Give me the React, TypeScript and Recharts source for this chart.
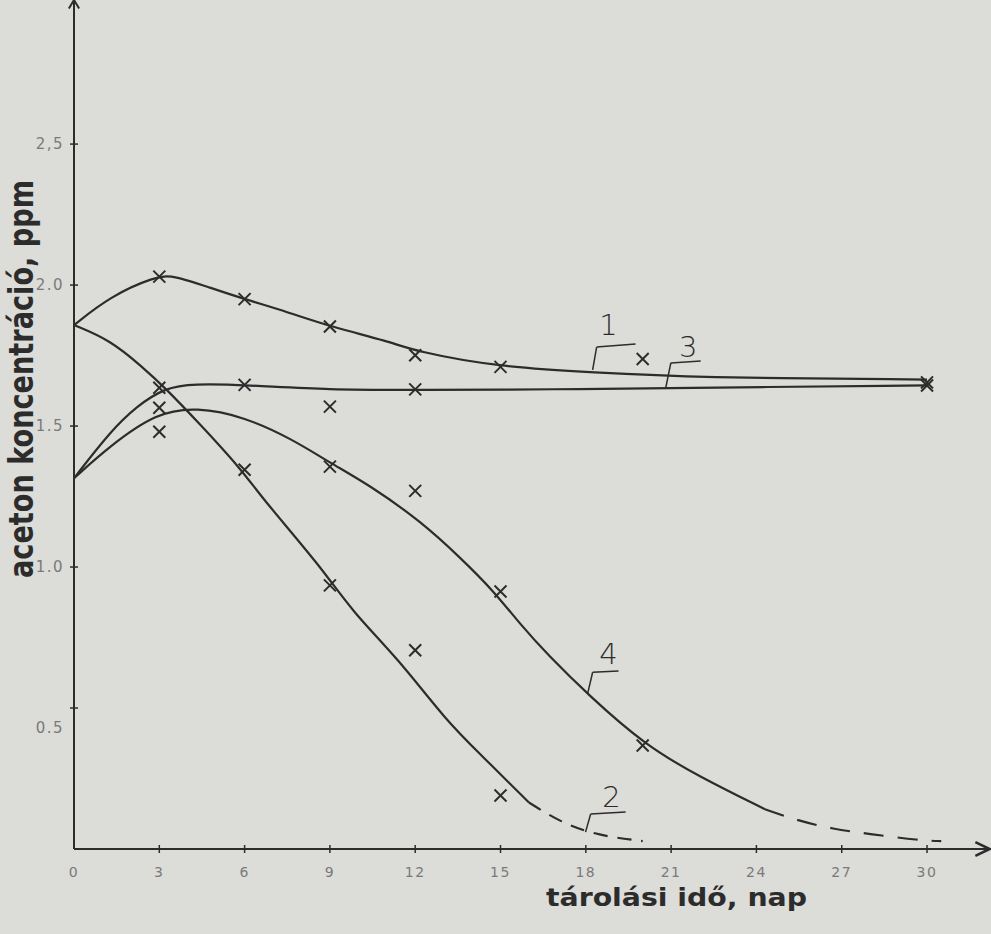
import React from 'react';
import { ComposedChart, Line, Scatter, XAxis, YAxis, ReferenceLine, ReferenceDot } from 'recharts';

const INK = '#2c2c2c';
const PAPER = '#dcdcd8';
const TICK_INK = '#7a7a7a';

// axis ticks
const xTicks = [0, 3, 6, 9, 12, 15, 18, 21, 24, 27, 30];
const xTickLabels = ['0', '3', '6', '9', '12', '15', '18', '21', '24', '27', '30'];
const yTicks = [0.5, 1.0, 1.5, 2.0, 2.5];
const yTickLabels = ['0.5', '1.0', '1.5', '2.0', '2,5'];

// curve 1 (fitted line)
const c1Days = [0, 1.27, 2.85, 3.5, 4.8, 6, 7.5, 9, 11.1, 12, 14.9, 18.3, 21.8, 30];
const c1Vals = [1.858, 1.96, 2.03, 2.035, 1.99, 1.95, 1.905, 1.853, 1.8, 1.765, 1.71, 1.69, 1.672, 1.665];
// curve 2 (solid part, dashed extrapolation)
const c2Days = [0, 1.27, 2.4, 3.2, 4.4, 5.9, 6.65, 8.66, 9.8, 11.4, 13.1, 14.3, 16];
const c2Vals = [1.858, 1.805, 1.71, 1.636, 1.51, 1.345, 1.24, 1.004, 0.84, 0.675, 0.454, 0.335, 0.165];
const c2DashDays = [16, 17.1, 18.4, 20];
const c2DashVals = [0.165, 0.095, 0.048, 0.028];
// curve 3
const c3Days = [0, 1.27, 2.2, 3.2, 4.2, 6, 9, 12, 17.1, 20.9, 30];
const c3Vals = [1.315, 1.48, 1.57, 1.636, 1.65, 1.646, 1.628, 1.628, 1.63, 1.635, 1.644];
// curve 4 (solid part, dashed extrapolation)
const c4Days = [0, 1.27, 2.9, 4.3, 6, 7.7, 9, 10.4, 12.2, 13.6, 14.75, 15.7, 16.65, 18.1, 20.1, 22, 24.3];
const c4Vals = [1.315, 1.43, 1.547, 1.567, 1.533, 1.452, 1.37, 1.29, 1.162, 1.032, 0.916, 0.796, 0.69, 0.545, 0.367, 0.256, 0.141];
const c4DashDays = [24.3, 25.5, 26.7, 27.9, 29.8, 30.5];
const c4DashVals = [0.141, 0.099, 0.071, 0.054, 0.03, 0.028];

// measured points (x markers)
const m1Days = [3, 6, 9, 12, 15, 20, 30];
const m1Vals = [2.03, 1.95, 1.853, 1.751, 1.71, 1.738, 1.655];
const m2Days = [3, 6, 9, 12, 15];
const m2Vals = [1.636, 1.345, 0.935, 0.705, 0.19];
const m3Days = [3, 6, 9, 12, 30];
const m3Vals = [1.565, 1.646, 1.569, 1.63, 1.644];
const m4Days = [3, 9, 12, 15, 20];
const m4Vals = [1.48, 1.356, 1.27, 0.913, 0.367];

// curve labels with leader lines
const curveNames = ['1', '3', '4', '2'];
const labelDays = [18.8, 21.6, 18.8, 18.9];
const labelVals = [1.86, 1.78, 0.69, 0.184];
const leaderFoot = [[18.24, 1.699], [20.81, 1.635], [18.06, 0.549], [17.99, 0.06]];
const leaderKnee = [[18.38, 1.78], [20.99, 1.724], [18.24, 0.627], [18.17, 0.124]];
const leaderEnd = [[19.75, 1.791], [22.04, 1.731], [19.15, 0.631], [19.4, 0.131]];

const X_MAX = 32.25;
const Y_MAX = 3.011;

const pts = (days: number[], vals: number[]) => days.map((d, i) => ({ x: d, y: vals[i] }));

function XMark(props: any) {
  const { cx, cy } = props;
  if (cx == null || cy == null) return null;
  const s = 6;
  return (
    <g stroke={INK} strokeWidth={2}>
      <line x1={cx - s} y1={cy - s} x2={cx + s} y2={cy + s} />
      <line x1={cx - s} y1={cy + s} x2={cx + s} y2={cy - s} />
    </g>
  );
}

function XTick(props: any) {
  const { x, y, payload } = props;
  const v = payload.value;
  const i = xTicks.indexOf(v);
  return (
    <g>
      {v > 0 && <line x1={x} y1={y - 4} x2={x} y2={y + 4} stroke={INK} strokeWidth={1.5} />}
      <text x={x} y={y + 28} textAnchor="middle" fontSize={14} fill={TICK_INK} fontFamily="'DejaVu Sans', sans-serif" letterSpacing={1.5}>
        {xTickLabels[i]}
      </text>
    </g>
  );
}

function YTick(props: any) {
  const { x, y, payload } = props;
  const v = payload.value;
  const i = yTicks.indexOf(v);
  const dy = v === 0.5 ? 25 : 5;
  return (
    <g>
      <line x1={x - 4} y1={y} x2={x + 4} y2={y} stroke={INK} strokeWidth={1.5} />
      <text x={x - 10} y={y + dy} textAnchor="end" fontSize={15} fill={TICK_INK} fontFamily="'DejaVu Sans', sans-serif" letterSpacing={1.5}>
        {yTickLabels[i]}
      </text>
    </g>
  );
}

const XTitle = () => (
  <text x={546} y={906} fontSize={25} fontWeight="bold" fill={INK}
    fontFamily="'DejaVu Sans Condensed', 'DejaVu Sans', sans-serif"
    textLength={261} lengthAdjust="spacingAndGlyphs">
    tárolási idő, nap
  </text>
);

const YTitle = () => (
  <text transform="translate(33,379) rotate(-90)" x={0} y={0} textAnchor="middle" fontSize={33} fontWeight="bold" fill={INK}
    fontFamily="'DejaVu Sans Condensed', 'DejaVu Sans', sans-serif"
    textLength={398} lengthAdjust="spacingAndGlyphs">
    aceton koncentráció, ppm
  </text>
);

function DigitLabel(text: string) {
  return (props: any) => {
    const vb = props.viewBox || {};
    const cx = (vb.x || 0) + (vb.width || 0) / 2;
    const cy = (vb.y || 0) + (vb.height || 0) / 2;
    return (
      <text x={cx} y={cy + 10} textAnchor="middle" fontSize={29} fill={INK}
        fontFamily="'DejaVu Sans', sans-serif" fontWeight={200}>
        {text}
      </text>
    );
  };
}

export default function App() {
  const lineProps = {
    dataKey: 'y',
    type: 'basis' as const,
    stroke: INK,
    strokeWidth: 2.2,
    dot: false,
    activeDot: false,
    isAnimationActive: false,
    legendType: 'none' as const,
  };
  return (
    <div style={{ position: 'absolute', left: 0, top: 0, width: 991, height: 934, background: PAPER }}>
      <ComposedChart width={991} height={934} margin={{ top: 0, right: 0, bottom: 0, left: 0 }}>
        <XAxis
          type="number"
          dataKey="x"
          domain={[0, X_MAX]}
          allowDataOverflow
          ticks={xTicks}
          interval={0}
          height={85}
          tickSize={0}
          tickMargin={0}
          tickLine={false}
          axisLine={{ stroke: INK, strokeWidth: 2 }}
          tick={(p: any) => <XTick {...p} />}
          label={<XTitle />}
        />
        <YAxis
          type="number"
          domain={[0, Y_MAX]}
          allowDataOverflow
          ticks={yTicks}
          interval={0}
          width={74}
          tickSize={0}
          tickMargin={0}
          tickLine={false}
          axisLine={{ stroke: INK, strokeWidth: 2 }}
          tick={(p: any) => <YTick {...p} />}
          label={<YTitle />}
        />

        <Line data={pts(c1Days, c1Vals)} {...lineProps} />
        <Line data={pts(c2Days, c2Vals)} {...lineProps} />
        <Line data={pts(c2DashDays, c2DashVals)} {...lineProps} strokeDasharray="14 10" />
        <Line data={pts(c3Days, c3Vals)} {...lineProps} />
        <Line data={pts(c4Days, c4Vals)} {...lineProps} />
        <Line data={pts(c4DashDays, c4DashVals)} {...lineProps} strokeDasharray="20 14" />

        <Scatter data={pts(m1Days, m1Vals)} dataKey="y" shape={(p: any) => <XMark {...p} />} isAnimationActive={false} legendType="none" />
        <Scatter data={pts(m2Days, m2Vals)} dataKey="y" shape={(p: any) => <XMark {...p} />} isAnimationActive={false} legendType="none" />
        <Scatter data={pts(m3Days, m3Vals)} dataKey="y" shape={(p: any) => <XMark {...p} />} isAnimationActive={false} legendType="none" />
        <Scatter data={pts(m4Days, m4Vals)} dataKey="y" shape={(p: any) => <XMark {...p} />} isAnimationActive={false} legendType="none" />

        {curveNames.map((n, i) => (
          <ReferenceLine key={'lf' + i} ifOverflow="visible" stroke={INK} strokeWidth={1.5}
            segment={[{ x: leaderFoot[i][0], y: leaderFoot[i][1] }, { x: leaderKnee[i][0], y: leaderKnee[i][1] }]} />
        ))}
        {curveNames.map((n, i) => (
          <ReferenceLine key={'lk' + i} ifOverflow="visible" stroke={INK} strokeWidth={1.5}
            segment={[{ x: leaderKnee[i][0], y: leaderKnee[i][1] }, { x: leaderEnd[i][0], y: leaderEnd[i][1] }]} />
        ))}
        {curveNames.map((n, i) => (
          <ReferenceDot key={'ld' + i} x={labelDays[i]} y={labelVals[i]} r={0} fill="none" stroke="none"
            ifOverflow="visible" label={DigitLabel(n)} />
        ))}

        {/* axis arrowheads */}
        <ReferenceLine ifOverflow="visible" stroke={INK} strokeWidth={2}
          segment={[{ x: -0.18, y: Y_MAX - 0.03 }, { x: 0, y: Y_MAX }]} />
        <ReferenceLine ifOverflow="visible" stroke={INK} strokeWidth={2}
          segment={[{ x: 0, y: Y_MAX }, { x: 0.18, y: Y_MAX - 0.03 }]} />
        <ReferenceLine ifOverflow="visible" stroke={INK} strokeWidth={2.5}
          segment={[{ x: X_MAX - 0.55, y: 0.024 }, { x: X_MAX - 0.05, y: 0 }]} />
        <ReferenceLine ifOverflow="visible" stroke={INK} strokeWidth={2.5}
          segment={[{ x: X_MAX - 0.05, y: 0 }, { x: X_MAX - 0.55, y: -0.024 }]} />
      </ComposedChart>
    </div>
  );
}
